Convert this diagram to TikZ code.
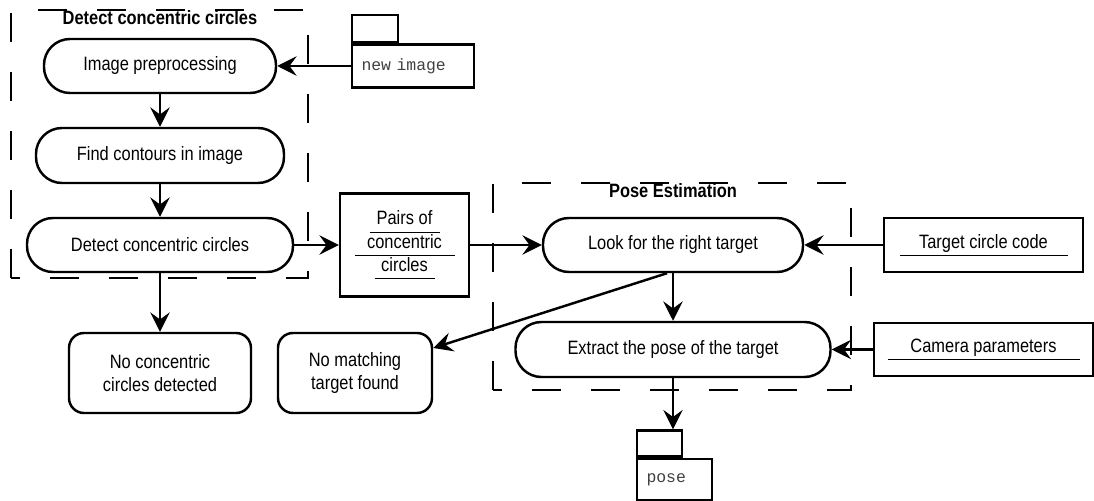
\documentclass[tikz,border=0pt]{standalone}
\usepackage{fontspec}
\setmainfont{Liberation Sans}[FakeStretch=0.85]
\setmonofont{Liberation Mono}
\usetikzlibrary{arrows.meta}
\pgfdeclarelayer{bg}
\pgfsetlayers{bg,main}
\newcommand{\ulline}[2]{\makebox[#1]{#2}\llap{\rule[-4.5pt]{#1}{0.5pt}}}
\tikzset{
        every node/.style={inner sep=0pt, font=\fontsize{11}{13.3}\selectfont},
        terminal/.style={draw, line width=1.4pt, rounded corners=0.52cm, minimum height=1.08cm},
        outcome/.style={draw, line width=1.4pt, rounded corners=0.3cm, minimum height=1.6cm, align=center},
        store/.style={draw, line width=1.4pt, align=center},
        datafile/.style={draw, line width=1.4pt, align=left, inner xsep=0.19cm, font=\fontsize{9.35}{11}\selectfont\ttfamily\color{black!75}},
        datatab/.style={draw, line width=1.4pt, anchor=south west},
        grouptitle/.style={font=\fontsize{11}{13.3}\selectfont\bfseries},
        group/.style={line width=1.4pt, dash pattern=on 0.58cm off 0.6cm},
        flow/.style={-{Stealth[length=11pt, width=11pt, inset=4pt]}, line width=1.4pt}
}
\begin{document}
\begin{tikzpicture}
        \useasboundingbox (0cm, 0cm) rectangle (21.880000cm, 10.020000cm);
        \node (detecttitle) [grouptitle] at (3.200000cm, 9.670000cm) {Detect concentric circles};
        \node (posetitle) [grouptitle] at (13.460000cm, 6.200000cm) {Pose Estimation};
        \node (prep) [terminal, minimum width=4.640000cm] at (3.200000cm, 8.700000cm) {Image preprocessing};
        \node (contours) [terminal, minimum width=4.960000cm, minimum height=1.100000cm] at (3.200000cm, 6.910000cm) {Find contours in image};
        \node (detect) [terminal, minimum width=5.320000cm] at (3.200000cm, 5.120000cm) {Detect concentric circles};
        \node (nocirc) [outcome, minimum width=3.640000cm] at (3.200000cm, 2.560000cm) {No concentric\\circles detected};
        \node (nomatch) [outcome, minimum width=3.080000cm] at (7.100000cm, 2.560000cm) {No matching\\target found};
        \node (pairs) [store, minimum width=2.580000cm, minimum height=2.060000cm] at (8.090000cm, 5.120000cm) {\ulline{1.40cm}{Pairs of}\\\ulline{2.00cm}{concentric}\\\ulline{1.20cm}{circles}};
        \node (look) [terminal, minimum width=5.200000cm] at (13.460000cm, 5.120000cm) {Look for the right target};
        \node (extract) [terminal, minimum width=6.300000cm, minimum height=1.100000cm] at (13.460000cm, 3.030000cm) {Extract the pose of the target};
        \node (code) [store, minimum width=3.980000cm, minimum height=1.080000cm] at (19.670000cm, 5.120000cm) {\ulline{3.36cm}{Target circle code}};
        \node (camera) [store, minimum width=4.380000cm, minimum height=1.060000cm] at (19.670000cm, 3.030000cm) {\ulline{3.84cm}{Camera parameters}};
        \node (newimg) [datafile, text width=2.060000cm, minimum height=0.860000cm] at (8.260000cm, 8.700000cm) {new image};
        \node (newimgtab) [datatab, minimum width=0.920000cm, minimum height=0.540000cm] at (newimg.north west) {};
        \node (pose) [datafile, text width=1.120000cm, minimum height=0.820000cm] at (13.490000cm, 0.430000cm) {pose};
        \node (posetab) [datatab, minimum width=0.900000cm, minimum height=0.520000cm] at (pose.north west) {};
        \begin{pgfonlayer}{bg}
                \draw [group] (0.220000cm, 4.460000cm) rectangle (6.160000cm, 9.820000cm);
                \draw [group] (9.860000cm, 2.220000cm) rectangle (17.020000cm, 6.360000cm);
        \end{pgfonlayer}
        \draw (newimg) edge [flow] (prep);
        \draw (prep) edge [flow] (contours);
        \draw (contours) edge [flow] (detect);
        \draw (detect) edge [flow] (pairs);
        \draw (detect) edge [flow] (nocirc);
        \draw (pairs) edge [flow] (look);
        \draw (code) edge [flow] (look);
        \draw (look) edge [flow] (extract);
        \draw ([xshift=-0.12cm]look.south) edge [flow] ([yshift=0.5cm]nomatch.east);
        \draw (camera) edge [flow] (extract);
        \draw (extract.south) edge [flow] (extract.south |- posetab.north);
\end{tikzpicture}
\end{document}
